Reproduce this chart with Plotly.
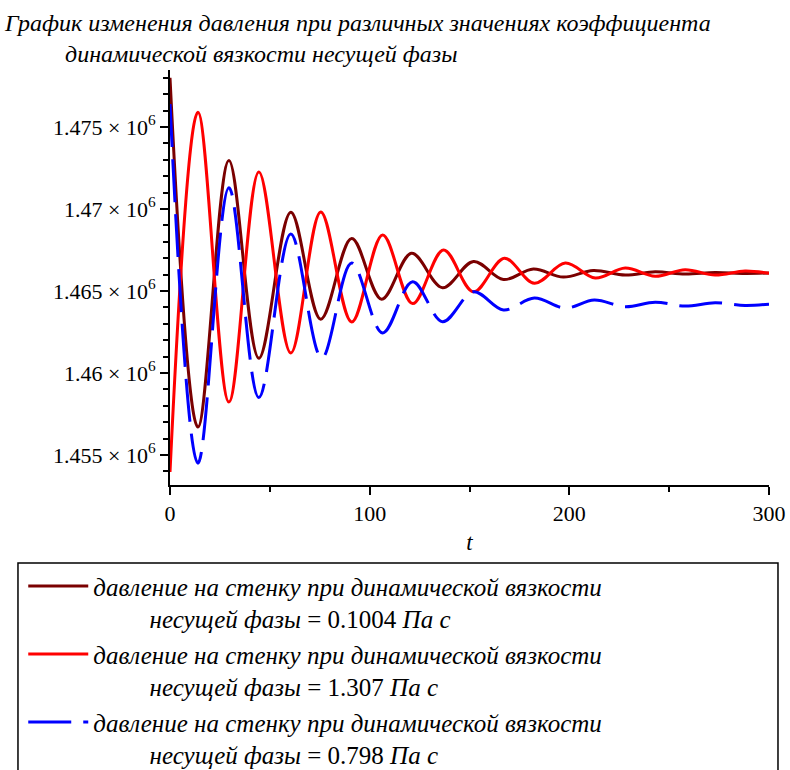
import plotly.graph_objects as go

# ---- data ----
t_maroon = [0, 14, 29.5, 44.5, 60.5, 75.5, 91, 106, 121, 136.5, 152, 167, 182, 197, 212, 228, 243, 258, 273, 288, 300]
p_maroon = [1478000, 1456700, 1472950, 1460900, 1469800, 1463280, 1468200, 1464500, 1467300, 1465200, 1466800,
            1465700, 1466340, 1465850, 1466250, 1465970, 1466170, 1466030, 1466130, 1466070, 1466100]

t_red = [0, 14, 29.5, 44.5, 60.5, 75.5, 91, 106.5, 121.5, 137, 152, 167.5, 182.5, 198, 213, 228, 243, 258, 273, 288, 300]
p_red = [1453960, 1475900, 1458230, 1472260, 1461220, 1469820, 1463110, 1468410, 1464230, 1467500, 1464950,
         1466990, 1465470, 1466700, 1465790, 1466400, 1465900, 1466300, 1465970, 1466220, 1466080]

t_blue = [0, 14, 29.5, 44.5, 60.5, 76, 91, 106.5, 121.5, 136.5, 152, 167, 182.5, 198, 212.5, 228, 243, 258, 273, 288, 300]
p_blue = [1476400, 1454500, 1471300, 1458500, 1468470, 1460910, 1466700, 1462440, 1465570, 1463130, 1464950,
          1463840, 1464570, 1463960, 1464450, 1464040, 1464320, 1464080, 1464280, 1464120, 1464200]

y_tickvals = [1455000, 1460000, 1465000, 1470000, 1475000]
y_ticktext = ["1.455 × 10<sup>6</sup>", "1.46 × 10<sup>6</sup>", "1.465 × 10<sup>6</sup>",
              "1.47 × 10<sup>6</sup>", "1.475 × 10<sup>6</sup>"]
x_tickvals = [0, 100, 200, 300]

names = ["0.1004", "1.307", "0.798"]

NB = "\u00a0"
def legend_name(v):
    return ("<i>давление на стенку при динамической вязкости</i><br>" + NB * 9 +
            "<i>несущей фазы</i> = " + v + " <i>Па с</i>")

fig = go.Figure()
fig.add_trace(go.Scatter(x=t_maroon, y=p_maroon, mode="lines", name=legend_name(names[0]),
                         line=dict(color="#7a0000", width=3, shape="spline", smoothing=1.0)))
fig.add_trace(go.Scatter(x=t_red, y=p_red, mode="lines", name=legend_name(names[1]),
                         line=dict(color="#ff0000", width=3, shape="spline", smoothing=1.0)))
fig.add_trace(go.Scatter(x=t_blue, y=p_blue, mode="lines", name=legend_name(names[2]),
                         line=dict(color="#0000ff", width=3, shape="spline", smoothing=1.0,
                                   dash="43px,12px")))

serif = "Liberation Serif"
fig.update_layout(
    width=790, height=770,
    margin=dict(l=170, r=21, t=70, b=285, autoexpand=False),
    paper_bgcolor="white", plot_bgcolor="white",
    font=dict(family=serif, size=20, color="black"),
    title=dict(
        text="<i>График изменения давления при различных значениях коэффициента<br>" + NB * 10 +
             "динамической вязкости несущей фазы</i>",
        x=5 / 790, xref="container", xanchor="left",
        y=1 - 31 / 770, yref="container", yanchor="top",
        font=dict(family=serif, size=24, color="black")),
    xaxis=dict(range=[0, 300], tickvals=x_tickvals, ticks="outside", ticklen=8, tickwidth=1.5,
               tickcolor="black", showline=True, linecolor="black", linewidth=2, showgrid=False,
               zeroline=False, tickfont=dict(size=22),
               minor=dict(tickvals=[50, 150, 250], ticks="outside", ticklen=5, tickwidth=1.5,
                          tickcolor="black", showgrid=False),
               title=dict(text="<i>t</i>", font=dict(size=23), standoff=8)),
    yaxis=dict(range=[1453170, 1478476], tickvals=y_tickvals, ticktext=y_ticktext, ticks="outside",
               ticklen=8, tickwidth=1.5, tickcolor="black", showline=True, linecolor="black",
               linewidth=2, showgrid=False, zeroline=False, tickfont=dict(size=22),
               minor=dict(dtick=1000, tick0=1455000, ticks="outside", ticklen=5, tickwidth=1.5,
                          tickcolor="black", showgrid=False)),
    legend=dict(x=-0.245, xanchor="left", y=-0.1885, yanchor="top", valign="top",
                bgcolor="rgba(0,0,0,0)", borderwidth=0, tracegroupgap=0, itemwidth=60,
                font=dict(family=serif, size=25, color="black")),
    shapes=[dict(type="rect", xref="paper", yref="paper", x0=-0.2538, x1=1.015, y0=-0.188, y1=-0.75,
                 line=dict(color="black", width=1.5), fillcolor="rgba(0,0,0,0)")],
    showlegend=True,
)

fig.write_html("out.html", config={"displayModeBar": False},
               post_script="document.body.style.margin='0';document.body.style.overflow='hidden';")
